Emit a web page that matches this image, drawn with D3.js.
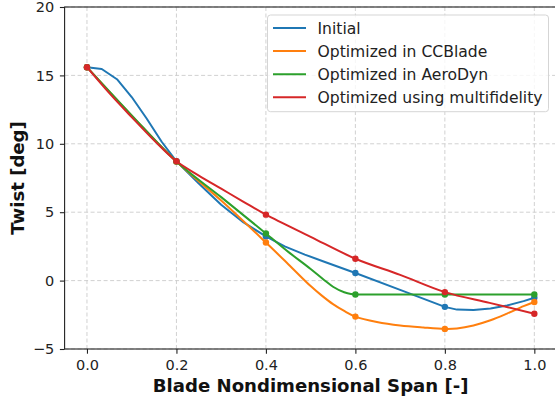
<!DOCTYPE html>
<html>
<head>
<meta charset="utf-8">
<script src="https://cdn.jsdelivr.net/npm/d3@7"></script>
<style>
  html, body { margin: 0; padding: 0; background: #fff; }
  svg { display: block; font-family: "DejaVu Sans", sans-serif; }
</style>
</head>
<body>
<svg id="chart" width="555" height="400"></svg>
<script>
// ---- data ----
const seriesNames = ["Initial", "Optimized in CCBlade", "Optimized in AeroDyn", "Optimized using multifidelity"];
const seriesColors = ["#1f77b4", "#ff7f0e", "#2ca02c", "#d62728"];

// control-point spans (markers)
const controlSpan = [0.0, 0.2, 0.4, 0.6, 0.8, 1.0];
const initialCtrl = [15.6, 8.72, 3.23, 0.56, -1.92, -1.25];
const ccbladeCtrl = [15.6, 8.7, 2.78, -2.63, -3.53, -1.56];
const aerodynCtrl = [15.6, 8.7, 3.45, -1.02, -1.02, -1.02];
const multiCtrl   = [15.6, 8.72, 4.82, 1.6, -0.84, -2.42];

// curves
const initialSpan = [0, 0.033, 0.067, 0.1, 0.133, 0.167, 0.2, 0.25, 0.3, 0.35, 0.4, 0.442, 0.487, 0.532, 0.6, 0.7, 0.8, 0.827, 0.864, 0.902, 0.939, 0.976, 1.0];
const initialTwist = [15.6, 15.47, 14.72, 13.42, 11.87, 10.15, 8.72, 7.1, 5.55, 4.25, 3.23, 2.5, 1.9, 1.36, 0.56, -0.68, -1.92, -2.12, -2.15, -2.04, -1.82, -1.5, -1.25];

const ccbladeSpan = [0, 0.1, 0.2, 0.3, 0.4, 0.45, 0.5, 0.525, 0.55, 0.575, 0.6, 0.648, 0.7, 0.752, 0.8, 0.827, 0.864, 0.902, 0.939, 0.976, 1.0];
const ccbladeTwist = [15.6, 12.05, 8.7, 5.85, 2.78, 1.2, -0.4, -1.1, -1.72, -2.22, -2.63, -3.02, -3.28, -3.43, -3.53, -3.5, -3.28, -2.9, -2.41, -1.87, -1.56];

const aerodynSpan = [0, 0.1, 0.2, 0.3, 0.4, 0.45, 0.5, 0.53, 0.55, 0.575, 0.59, 0.6, 0.8, 1.0];
const aerodynTwist = [15.6, 12.08, 8.7, 6.1, 3.45, 2.1, 0.85, 0.05, -0.45, -0.85, -0.98, -1.02, -1.02, -1.02];

const multiSpan = [0, 0.05, 0.1, 0.15, 0.2, 0.25, 0.3, 0.35, 0.4, 0.5, 0.6, 0.7, 0.8, 0.9, 1.0];
const multiTwist = [15.6, 13.7, 11.95, 10.25, 8.72, 7.68, 6.72, 5.76, 4.82, 3.2, 1.6, 0.42, -0.84, -1.63, -2.42];

const xTicks = [0.0, 0.2, 0.4, 0.6, 0.8, 1.0];
const yTicks = [-5, 0, 5, 10, 15, 20];
const xLabel = "Blade Nondimensional Span [-]";
const yLabel = "Twist [deg]";

const curves = [
  {span: initialSpan, twist: initialTwist, ct: initialCtrl, curve: d3.curveLinear},
  {span: ccbladeSpan, twist: ccbladeTwist, ct: ccbladeCtrl, curve: d3.curveCatmullRom},
  {span: aerodynSpan, twist: aerodynTwist, ct: aerodynCtrl, curve: d3.curveMonotoneX},
  {span: multiSpan, twist: multiTwist, ct: multiCtrl, curve: d3.curveCatmullRom}
];

// ---- layout ----
const L = 64.6, R = 556.7, T = 7, B = 349;
const svg = d3.select("#chart");
const x = d3.scaleLinear().domain([-0.05, 1.05]).range([L, R]);
const y = d3.scaleLinear().domain([-5, 20]).range([B, T]);
const fmtY = d => (d < 0 ? "\u2212" + Math.abs(d) : String(d));

// grid
const grid = svg.append("g");
grid.selectAll("line.gx").data(xTicks).join("line")
  .attr("x1", d => x(d)).attr("x2", d => x(d)).attr("y1", T).attr("y2", B)
  .attr("stroke", "#cccccc").attr("stroke-width", 0.9).attr("stroke-dasharray", "4,2.5");
grid.selectAll("line.gy").data(yTicks).join("line")
  .attr("y1", d => y(d)).attr("y2", d => y(d)).attr("x1", L).attr("x2", R)
  .attr("stroke", "#cccccc").attr("stroke-width", 0.9).attr("stroke-dasharray", "4,2.5");

// lines
svg.append("clipPath").attr("id", "clip").append("rect")
  .attr("x", L).attr("y", T).attr("width", R - L).attr("height", B - T);
const plot = svg.append("g").attr("clip-path", "url(#clip)");
curves.forEach((c, i) => {
  const line = d3.line().x(d => x(d[0])).y(d => y(d[1])).curve(c.curve);
  const pts = c.span.map((s, j) => [s, c.twist[j]]);
  plot.append("path").attr("d", line(pts)).attr("fill", "none")
    .attr("stroke", seriesColors[i]).attr("stroke-width", 2).attr("stroke-linejoin", "round");
  plot.selectAll(null).data(controlSpan.map((s, j) => [s, c.ct[j]])).join("circle")
    .attr("cx", d => x(d[0])).attr("cy", d => y(d[1])).attr("r", 3.2)
    .attr("fill", seriesColors[i]);
});

// axes
const xAxis = d3.axisBottom(x).tickValues(xTicks).tickFormat(d3.format(".1f")).tickSize(4.7).tickPadding(6.2);
const yAxis = d3.axisLeft(y).tickValues(yTicks).tickFormat(fmtY).tickSize(4.7).tickPadding(5.6);
const gx = svg.append("g").attr("transform", `translate(0,${B})`).call(xAxis);
const gy = svg.append("g").attr("transform", `translate(${L},0)`).call(yAxis);
[gx, gy].forEach(g => {
  g.selectAll("text").attr("font-size", 14.5).attr("font-family", "DejaVu Sans").attr("fill", "#222");
  g.selectAll("line").attr("stroke", "#222").attr("stroke-width", 1.1);
  g.select(".domain").remove();
});
// spines
svg.append("rect").attr("x", L).attr("y", T).attr("width", R - L).attr("height", B - T)
  .attr("fill", "none").attr("stroke", "#222").attr("stroke-width", 1.1);

// axis labels
svg.append("text").attr("x", (L + R) / 2).attr("y", 392).attr("text-anchor", "middle")
  .attr("font-size", 18.1).attr("font-weight", "bold").attr("fill", "#111").text(xLabel);
svg.append("text").attr("transform", `translate(23.5,${(T + B) / 2}) rotate(-90)`).attr("text-anchor", "middle")
  .attr("font-size", 18.1).attr("font-weight", "bold").attr("fill", "#111").text(yLabel);

// legend
const lg = svg.append("g");
lg.append("rect").attr("x", 267.5).attr("y", 15).attr("width", 281).attr("height", 96.7)
  .attr("rx", 3).attr("fill", "rgba(255,255,255,0.8)").attr("stroke", "#d5d5d5").attr("stroke-width", 1);
seriesNames.forEach((n, i) => {
  const yy = 28 + i * 23.1;
  lg.append("line").attr("x1", 273).attr("x2", 306).attr("y1", yy).attr("y2", yy)
    .attr("stroke", seriesColors[i]).attr("stroke-width", 2);
  lg.append("text").attr("x", 317.5).attr("y", yy + 5.5).attr("font-size", 15.6)
    .attr("fill", "#222").text(n);
});
</script>
</body>
</html>
